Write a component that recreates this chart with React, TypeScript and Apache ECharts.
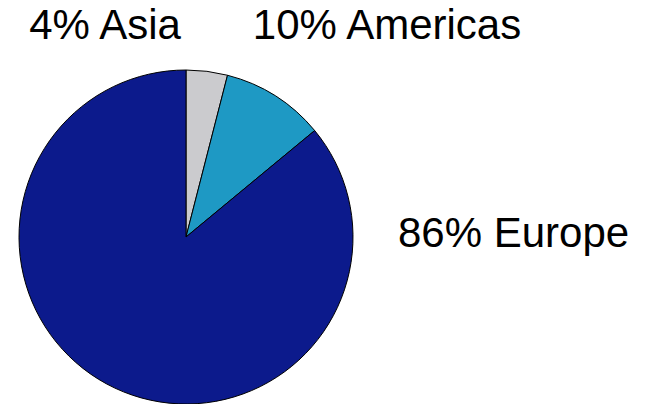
import React, { useEffect, useRef } from "react";
import * as echarts from "echarts";

const categories = ["Asia", "Americas", "Europe"];
const values = [4, 10, 86];
const colors = ["#cbcbce", "#1e99c4", "#0c1a8c"];
const labelPos = [
  { x: 105, y: 24, align: "center" },
  { x: 387, y: 24, align: "center" },
  { x: 398, y: 232, align: "left" },
];

export default function App() {
  const ref = useRef<HTMLDivElement>(null);
  useEffect(() => {
    document.body.style.margin = "0";
    const chart = echarts.init(ref.current!, null, { renderer: "svg" });
    chart.setOption({
      animation: false,
      backgroundColor: "#ffffff",
      series: [
        {
          type: "pie",
          center: [186, 237],
          radius: [0, 167],
          startAngle: 90,
          clockwise: true,
          data: categories.map((c, i) => ({
            name: c,
            value: values[i],
            itemStyle: { color: colors[i] },
          })),
          itemStyle: { borderColor: "#000", borderWidth: 1 },
          label: {
            show: true,
            formatter: (p: any) => `${p.value}% ${p.name}`,
            fontFamily: "Liberation Sans, Arial, sans-serif",
            fontSize: 42,
            color: "#000",
            overflow: "none",
          },
          labelLine: { show: false },
          labelLayout: (p: any) => {
            const l = labelPos[p.dataIndex];
            return { x: l.x, y: l.y, align: l.align, verticalAlign: "middle", hideOverlap: false };
          },
          emphasis: { disabled: true },
        },
      ],
    });
    return () => chart.dispose();
  }, []);
  return <div ref={ref} style={{ width: 647, height: 404 }} />;
}
